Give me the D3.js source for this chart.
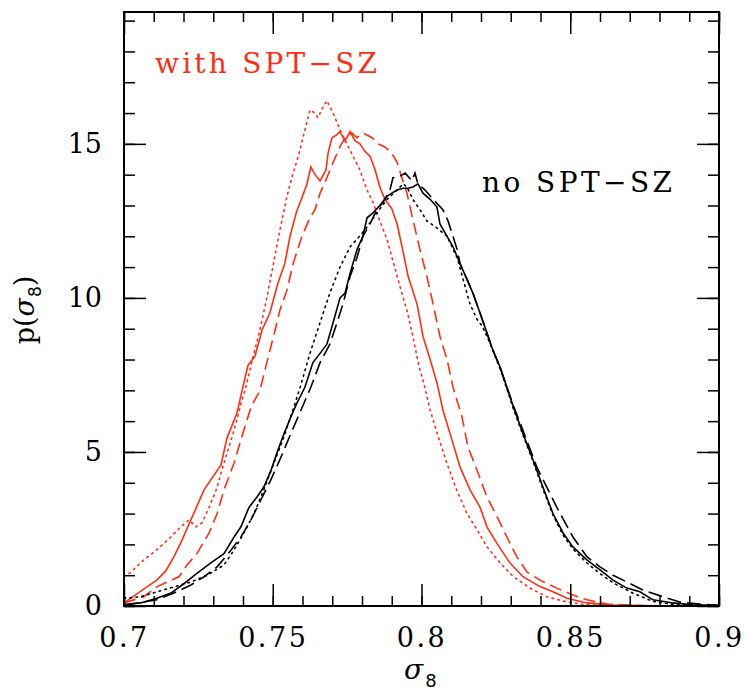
<!DOCTYPE html>
<html>
<head>
<meta charset="utf-8">
<script src="https://cdn.jsdelivr.net/npm/d3@7"></script>
<style>
	body { margin: 0; background: #fff; }
	svg { display: block; }
</style>
</head>
<body>
<svg id="chart" width="748" height="695"></svg>
<script>
// sigma_8 posteriors as [sigma8, p]
var redSolid = [[0.700,0.10],[0.7077,0.62],[0.711,0.84],[0.714,1.13],[0.7168,1.6],[0.7195,2.14],[0.7225,2.8],[0.7269,3.77],[0.7326,4.58],[0.7346,5.45],[0.738,6.27],[0.7397,7.0],[0.7417,7.82],[0.744,8.1],[0.7464,8.96],[0.749,9.5],[0.7518,10.5],[0.754,11.1],[0.7558,12.0],[0.758,12.8],[0.760,13.3],[0.7615,13.7],[0.7628,14.25],[0.7642,14.0],[0.7659,13.8],[0.7679,14.15],[0.7686,14.7],[0.7699,15.2],[0.7716,15.3],[0.7726,15.4],[0.7743,15.1],[0.776,15.4],[0.7776,15.1],[0.7793,15.0],[0.781,14.75],[0.7827,14.6],[0.7844,14.15],[0.786,13.6],[0.7877,13.2],[0.790,12.9],[0.7918,12.4],[0.7938,11.5],[0.7955,10.7],[0.7985,9.8],[0.8005,8.75],[0.8029,8.0],[0.8052,7.24],[0.8072,6.36],[0.8102,5.4],[0.813,4.5],[0.8163,3.77],[0.8197,3.2],[0.822,2.57],[0.8253,2.04],[0.8297,1.4],[0.8341,0.95],[0.8398,0.63],[0.8442,0.46],[0.8489,0.25],[0.8556,0.1],[0.8644,0.03],[0.88,0.01],[0.9,0.0]];

var redDashed = [[0.700,0.1],[0.7067,0.3],[0.711,0.62],[0.7158,0.84],[0.7185,0.95],[0.7212,1.33],[0.7245,1.7],[0.7286,2.37],[0.7313,3.0],[0.7336,3.77],[0.737,4.64],[0.7393,5.4],[0.7427,6.46],[0.7457,7.0],[0.748,7.9],[0.7508,8.96],[0.7524,9.6],[0.7548,10.26],[0.7568,11.1],[0.7598,12.0],[0.7625,12.6],[0.7642,12.86],[0.7659,13.4],[0.7682,13.9],[0.7703,14.4],[0.7726,14.9],[0.7743,15.2],[0.7766,15.35],[0.7783,15.2],[0.7803,15.35],[0.7834,15.2],[0.7854,15.0],[0.7877,14.9],[0.790,14.7],[0.7918,14.4],[0.7934,13.9],[0.7951,13.4],[0.7971,12.55],[0.7995,11.56],[0.8018,10.7],[0.8039,9.8],[0.8062,8.75],[0.8086,8.0],[0.8106,7.1],[0.8136,6.14],[0.8156,5.16],[0.8187,4.4],[0.822,3.54],[0.8254,2.9],[0.8287,2.24],[0.832,1.6],[0.8355,1.1],[0.8398,0.84],[0.8455,0.58],[0.8509,0.36],[0.8556,0.2],[0.8624,0.06],[0.875,0.01],[0.9,0.0]];

var redDotted = [[0.700,0.95],[0.7023,1.1],[0.7067,1.5],[0.711,1.82],[0.7158,2.24],[0.719,2.57],[0.7218,2.79],[0.7242,2.57],[0.7262,2.7],[0.7286,3.2],[0.731,3.77],[0.7336,4.64],[0.737,5.7],[0.7397,6.7],[0.7407,7.0],[0.7434,8.1],[0.7457,8.96],[0.748,10.0],[0.7502,11.1],[0.7524,12.2],[0.7548,13.3],[0.7564,13.9],[0.7586,14.6],[0.7608,15.45],[0.7625,16.1],[0.7642,16.0],[0.7652,15.85],[0.7669,16.2],[0.7682,16.4],[0.7703,16.0],[0.7726,15.45],[0.7749,15.0],[0.777,14.6],[0.7793,14.15],[0.7817,13.5],[0.7837,13.1],[0.786,12.5],[0.7884,11.9],[0.7904,11.2],[0.7928,10.36],[0.7951,9.6],[0.7971,8.75],[0.7992,7.76],[0.8005,7.34],[0.8029,6.36],[0.8056,5.5],[0.8085,4.64],[0.8118,3.77],[0.8153,3.0],[0.8187,2.47],[0.822,1.92],[0.8264,1.4],[0.8309,0.95],[0.8365,0.58],[0.8421,0.3],[0.8489,0.13],[0.8556,0.04],[0.87,0.0],[0.9,0.0]];

var blackSolid = [[0.700,0.05],[0.7056,0.1],[0.711,0.25],[0.7158,0.42],[0.7202,0.73],[0.7245,1.06],[0.7292,1.4],[0.7336,1.7],[0.737,2.24],[0.7393,2.57],[0.742,3.2],[0.7447,3.54],[0.747,3.86],[0.7494,4.4],[0.7514,4.97],[0.7538,5.6],[0.7561,6.14],[0.7582,6.6],[0.7608,7.1],[0.7635,7.9],[0.7659,8.2],[0.7682,8.5],[0.7703,9.2],[0.7726,10.0],[0.7743,10.16],[0.776,10.8],[0.7783,11.56],[0.7803,12.0],[0.7817,12.6],[0.7837,12.76],[0.786,13.0],[0.7884,13.3],[0.790,13.4],[0.7918,13.5],[0.7938,13.56],[0.7955,13.56],[0.7971,13.6],[0.7988,13.7],[0.8005,13.4],[0.8029,13.2],[0.8052,12.95],[0.8062,12.4],[0.8086,12.0],[0.8106,11.66],[0.813,11.1],[0.8153,10.6],[0.8173,10.15],[0.8197,9.5],[0.822,8.86],[0.824,8.3],[0.8264,7.76],[0.8287,7.1],[0.8309,6.46],[0.8341,5.6],[0.8375,4.74],[0.8408,3.86],[0.8442,3.0],[0.8476,2.37],[0.8509,1.92],[0.8556,1.5],[0.86,1.17],[0.8644,0.84],[0.869,0.58],[0.8734,0.46],[0.8778,0.2],[0.8845,0.1],[0.8913,0.04],[0.9,0.02]];

var blackDashed = [[0.700,0.02],[0.711,0.2],[0.7168,0.42],[0.7225,0.68],[0.7269,0.95],[0.7313,1.27],[0.736,1.82],[0.7393,2.24],[0.7427,2.8],[0.746,3.44],[0.7494,4.1],[0.7528,4.84],[0.7561,5.6],[0.7595,6.36],[0.7628,7.1],[0.7659,7.9],[0.7692,8.5],[0.7716,9.2],[0.7736,9.8],[0.776,10.7],[0.7783,11.3],[0.7803,12.0],[0.7827,12.4],[0.785,12.86],[0.787,13.1],[0.7894,13.5],[0.7904,13.9],[0.7928,13.95],[0.7945,14.05],[0.7968,13.8],[0.7978,14.05],[0.7988,13.7],[0.8012,13.5],[0.8039,13.2],[0.8072,12.86],[0.8089,12.5],[0.8106,12.0],[0.812,11.56],[0.813,11.1],[0.8153,10.6],[0.8173,10.15],[0.8197,9.5],[0.822,8.86],[0.824,8.3],[0.8264,7.76],[0.8287,7.1],[0.8309,6.5],[0.8341,5.7],[0.8388,4.5],[0.8455,3.2],[0.8509,2.24],[0.8556,1.6],[0.86,1.27],[0.8644,1.0],[0.869,0.78],[0.8744,0.52],[0.8812,0.3],[0.8868,0.13],[0.8936,0.06],[0.9,0.02]];

var blackDotted = [[0.700,0.25],[0.7056,0.3],[0.711,0.46],[0.7168,0.62],[0.7225,0.78],[0.728,1.0],[0.7336,1.33],[0.737,1.82],[0.7403,2.37],[0.7437,3.0],[0.747,3.77],[0.7504,4.64],[0.7538,5.5],[0.7571,6.46],[0.7592,7.1],[0.7625,8.2],[0.7659,9.2],[0.7692,10.16],[0.7726,11.0],[0.776,11.66],[0.7783,11.9],[0.7817,12.3],[0.785,12.76],[0.7884,13.2],[0.7918,13.5],[0.7938,13.7],[0.7951,13.6],[0.7971,13.2],[0.7995,12.86],[0.8018,12.5],[0.8052,12.27],[0.8086,12.0],[0.812,11.3],[0.814,10.6],[0.8163,9.8],[0.8187,9.3],[0.8203,9.1],[0.822,8.75],[0.824,8.3],[0.8264,7.7],[0.8287,7.05],[0.8309,6.4],[0.8341,5.55],[0.8375,4.7],[0.8408,3.8],[0.8442,2.95],[0.8476,2.3],[0.8509,1.85],[0.8556,1.4],[0.86,1.05],[0.8644,0.75],[0.871,0.42],[0.8778,0.15],[0.8845,0.05],[0.9,0.0]];

var xTicks = [0.7, 0.75, 0.8, 0.85, 0.9];
var xTickLabels = ["0.7", "0.75", "0.8", "0.85", "0.9"];
var yTicks = [0, 5, 10, 15];
var yTickLabels = ["0", "5", "10", "15"];

var RED = "#ff2d14";
var series = [
	{ data: redDotted,   color: RED,    dash: "1.6,4.4" },
	{ data: redDashed,   color: RED,    dash: "12,6" },
	{ data: redSolid,    color: RED,    dash: null },
	{ data: blackDotted, color: "#000", dash: "1.6,4.4" },
	{ data: blackDashed, color: "#000", dash: "14,6" },
	{ data: blackSolid,  color: "#000", dash: null }
];

var L = 124, R = 719, T = 12, B = 606;
var svg = d3.select("#chart");

var x = d3.scaleLinear().domain([0.7, 0.9]).range([L, R]);
var y = d3.scaleLinear().domain([0, 19.28]).range([B, T]);

svg.append("clipPath").attr("id", "plotclip")
	.append("rect")
		.attr("x", L).attr("y", T)
		.attr("width", R - L).attr("height", B - T);

var line = d3.line()
	.x(function(d){ return x(d[0]); })
	.y(function(d){ return y(d[1]); });

svg.append("g").attr("clip-path", "url(#plotclip)")
	.selectAll("path")
	.data(series)
	.enter()
	.append("path")
		.attr("d", function(d){ return line(d.data); })
		.attr("fill", "none")
		.attr("stroke", function(d){ return d.color; })
		.attr("stroke-width", 1.6)
		.attr("stroke-linecap", function(d){ return d.dash && d.dash.indexOf("1.6") === 0 ? "round" : "butt"; })
		.attr("stroke-dasharray", function(d){ return d.dash; });

// ticks point inwards on all four sides, as in the original
var minorX = x.ticks(20);
var minorY = d3.range(0, 20);

function styleAxis(g)
{
	g.select(".domain").remove();
	g.selectAll(".tick line").attr("stroke", "#000").attr("stroke-width", 1.5);
	g.selectAll("text")
		.attr("fill", "#000")
		.style("font-family", "'DejaVu Serif', serif")
		.style("font-size", "27px");
}

function fmtFrom(values, labels)
{
	return function(d){ return labels[values.indexOf(d)]; };
}

svg.append("g").attr("transform", "translate(0," + B + ")")
	.call(d3.axisBottom(x).tickValues(minorX).tickSize(-10).tickFormat(""))
	.call(styleAxis);
svg.append("g").attr("transform", "translate(0," + B + ")")
	.call(d3.axisBottom(x).tickValues(xTicks).tickSize(-22).tickPadding(22)
		.tickFormat(fmtFrom(xTicks, xTickLabels)))
	.call(styleAxis)
	.selectAll("text").style("letter-spacing", "2.5px");

svg.append("g").attr("transform", "translate(0," + T + ")")
	.call(d3.axisTop(x).tickValues(minorX).tickSize(-10).tickFormat(""))
	.call(styleAxis);
svg.append("g").attr("transform", "translate(0," + T + ")")
	.call(d3.axisTop(x).tickValues(xTicks).tickSize(-22).tickFormat(""))
	.call(styleAxis);

svg.append("g").attr("transform", "translate(" + L + ",0)")
	.call(d3.axisLeft(y).tickValues(minorY).tickSize(-11).tickFormat(""))
	.call(styleAxis);
svg.append("g").attr("transform", "translate(" + L + ",0)")
	.call(d3.axisLeft(y).tickValues(yTicks).tickSize(-22).tickPadding(22)
		.tickFormat(fmtFrom(yTicks, yTickLabels)))
	.call(styleAxis);

svg.append("g").attr("transform", "translate(" + R + ",0)")
	.call(d3.axisRight(y).tickValues(minorY).tickSize(-11).tickFormat(""))
	.call(styleAxis);
svg.append("g").attr("transform", "translate(" + R + ",0)")
	.call(d3.axisRight(y).tickValues(yTicks).tickSize(-22).tickFormat(""))
	.call(styleAxis);

svg.append("rect")
	.attr("x", L).attr("y", T)
	.attr("width", R - L).attr("height", B - T)
	.attr("fill", "none")
	.attr("stroke", "#000")
	.attr("stroke-width", 2);

// labels inside the box
svg.append("text")
	.attr("x", 155).attr("y", 73)
	.attr("textLength", 222).attr("lengthAdjust", "spacing")
	.attr("fill", RED)
	.style("font-family", "'DejaVu Serif', serif")
	.style("font-size", "28px")
	.text("with SPT\u2212SZ");

svg.append("text")
	.attr("x", 482).attr("y", 192)
	.attr("textLength", 190).attr("lengthAdjust", "spacing")
	.attr("fill", "#000")
	.style("font-family", "'DejaVu Serif', serif")
	.style("font-size", "28px")
	.text("no SPT\u2212SZ");

// axis titles
var xt = svg.append("text")
	.attr("x", 404).attr("y", 679)
	.style("font-family", "'DejaVu Serif', serif")
	.style("font-size", "28px");
xt.append("tspan").style("font-style", "italic").text("\u03c3");
xt.append("tspan")
	.attr("dy", 8).attr("dx", 2)
	.style("font-family", "'DejaVu Sans', sans-serif")
	.style("font-size", "18px")
	.text("8");

var yt = svg.append("text")
	.attr("transform", "translate(34,310) rotate(-90)")
	.attr("text-anchor", "middle")
	.style("font-family", "'DejaVu Serif', serif")
	.style("font-size", "27px");
yt.append("tspan").text("p(");
yt.append("tspan").style("font-style", "italic").text("\u03c3");
yt.append("tspan")
	.attr("dy", 7).attr("dx", 1)
	.style("font-family", "'DejaVu Sans', sans-serif")
	.style("font-size", "17px")
	.text("8");
yt.append("tspan").attr("dy", -7).text(")");
</script>
</body>
</html>
